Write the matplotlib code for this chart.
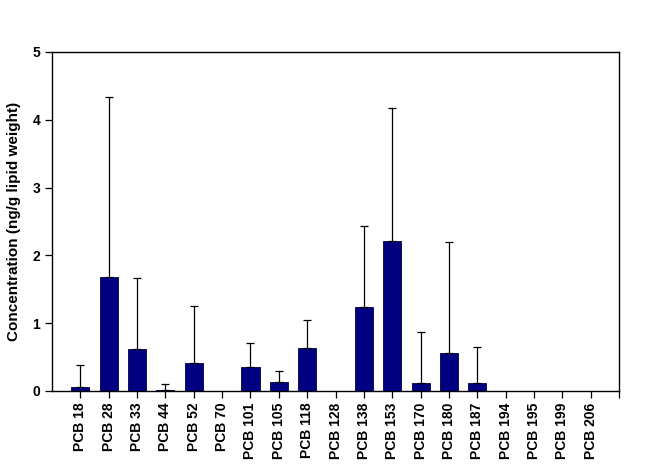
import numpy as np
import matplotlib.pyplot as plt

plt.rcParams['font.family'] = 'Liberation Sans'
plt.rcParams['font.weight'] = 'bold'

# Data
congeners = ['PCB 18', 'PCB 28', 'PCB 33', 'PCB 44', 'PCB 52', 'PCB 70', 'PCB 101',
             'PCB 105', 'PCB 118', 'PCB 128', 'PCB 138', 'PCB 153', 'PCB 170',
             'PCB 180', 'PCB 187', 'PCB 194', 'PCB 195', 'PCB 199', 'PCB 206']
mean_conc = [0.06, 1.68, 0.62, 0.01, 0.41, 0.0, 0.35, 0.13, 0.63, 0.0,
             1.24, 2.21, 0.12, 0.56, 0.12, 0.0, 0.0, 0.0, 0.0]
upper_err = [0.38, 4.33, 1.66, 0.10, 1.25, 0.0, 0.70, 0.29, 1.04, 0.0,
             2.43, 4.17, 0.87, 2.20, 0.65, 0.0, 0.0, 0.0, 0.0]

mean_conc = np.array(mean_conc)
upper_err = np.array(upper_err)
x = np.arange(len(congeners))
has_err = upper_err > 0

fig = plt.figure(figsize=(6.64, 4.71), dpi=100)
ax = fig.add_axes([0.0783, 0.170, 0.854, 0.7196])

ax.bar(x, mean_conc, width=0.64, color='#000080', edgecolor='#000040', linewidth=0.6, zorder=2)
ax.errorbar(x[has_err], mean_conc[has_err],
            yerr=[np.zeros(has_err.sum()), (upper_err - mean_conc)[has_err]],
            fmt='none', ecolor='black', elinewidth=0.9, capsize=3, capthick=0.9, zorder=3)

ax.set_xlim(-1, len(congeners))
ax.set_ylim(0, 5)
ax.set_xticks(list(x) + [len(congeners)])
ax.set_xticklabels(congeners + [''], rotation=90, fontsize=10, fontweight='bold')
ax.set_yticks([0, 1, 2, 3, 4, 5])
ax.tick_params(axis='y', labelsize=10, direction='out', length=5, width=0.9)
ax.tick_params(axis='x', direction='out', length=5, width=0.9)
for s in ax.spines.values():
    s.set_linewidth(1.0)
ax.set_ylabel('Concentration (ng/g lipid weight)', fontsize=11, fontweight='bold', labelpad=8)

fig.savefig('out.png', dpi=100)
